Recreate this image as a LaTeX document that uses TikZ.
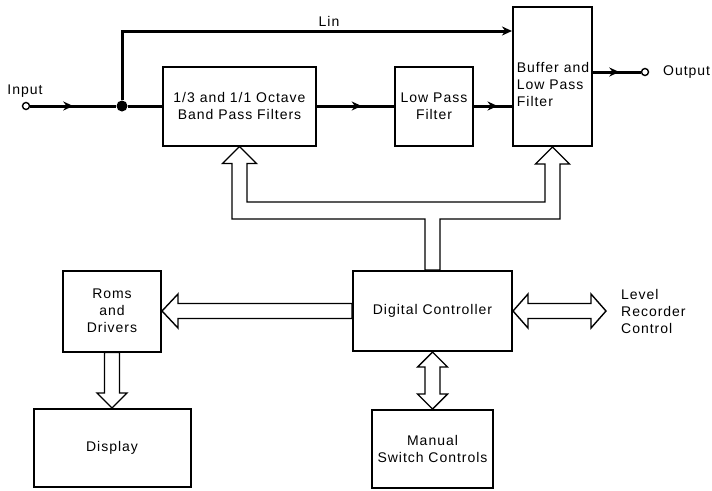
\documentclass[tikz,border=0pt]{standalone}
\usepackage{fontspec}
\setmainfont{Liberation Sans}[LetterSpace=7]
\usepackage{tikz}
\usetikzlibrary{calc,arrows.meta,decorations.markings}
\tikzset{
  box/.style={draw,line width=2pt,align=center,inner sep=2pt,font=\fontsize{14}{17}\selectfont},
  lbl/.style={font=\fontsize{14}{17}\selectfont,align=center,inner sep=1pt},
  sig/.style={line width=3pt},
  midar/.style={decoration={markings,mark=at position #1 with {\arrow{Stealth[length=10pt,width=9pt]}}},postaction={decorate}},
  fatar/.style={draw,line width=1.4pt,line join=miter},
  term/.style={circle,draw,line width=1.4pt,inner sep=0pt,minimum size=7pt}
}
\begin{document}
\begin{tikzpicture}[x=1pt,y=-1pt]
\useasboundingbox (0,0) rectangle (712,490);
\node[box,minimum width=153,minimum height=79] (bpf) at (239.5,106) {1/3 and 1/1 Octave\\Band Pass Filters};
\node[box,minimum width=78,minimum height=79] (lpf) at (434,106) {Low Pass\\Filter};
\node[box,minimum width=79,minimum height=139] (buf) at (552.5,76.5) {};
\node[lbl,align=left] (buftxt) at (553,84) {Buffer and\\Low Pass\\Filter};
\node[box,minimum width=98,minimum height=81] (roms) at (112,311) {Roms\\and\\Drivers};
\node[box,minimum width=157,minimum height=78] (disp) at (112,448) {Display};
\node[box,minimum width=159,minimum height=80] (dc) at (432.5,311) {Digital Controller};
\node[box,minimum width=121,minimum height=78] (msw) at (432.5,449) {Manual\\Switch Controls};

\node[term] (inp) at (26,106) {};
\node[circle,fill,inner sep=0pt,minimum size=11pt] (jn) at (122,106) {};
\node[term] (outp) at (645,72) {};
\coordinate (linin) at ($(buf.north west)+(0,25)$);
\draw[sig,midar=0.5] (inp) -- (jn);
\draw[sig] (jn) -- (bpf);
\draw[sig,-{Stealth[length=10pt,width=9pt]}] (jn) |- (linin);
\draw[sig,midar=0.58] (bpf) -- (lpf);
\draw[sig,midar=0.62] (lpf.east) -- (lpf.east -| buf.west);
\draw[sig,midar=0.55] (buf.east |- outp) -- (outp);
\node[lbl] (inlbl) at (25,91) {Input};
\node[lbl] (linlbl) at (329,21) {Lin};
\node[lbl,anchor=west] (outlbl) at (662,72) {Output};

\coordinate (bi) at ($(dc.north)+(0,-68)$);
\coordinate (bo) at ($(dc.north)+(0,-51)$);
\coordinate (bufL) at ($(buf.south)+(-7.5,0)$);
\coordinate (dcR) at ($(dc.north)+(7.5,0)$);
\coordinate (bpfL) at ($(bpf.south)+(-7.5,0)$);
\draw[fatar] (bpf.south) -- ++(17,17) -- ++(-9.5,0) |- (bufL |- bi) -- ($(buf.south)+(-7.5,17)$) -- ++(-9.5,0)
  -- (buf.south) -- ++(17,17) -- ++(-9.5,0) |- (dcR |- bo) -- (dcR) -- ($(dc.north)+(-7.5,0)$)
  |- (bpfL |- bo) -- ($(bpf.south)+(-7.5,17)$) -- ++(-9.5,0) -- cycle;
\draw[fatar] (roms.east) -- ++(16,-17) -- ++(0,9.5) -- ($(dc.west)+(0,-7.5)$) -- ($(dc.west)+(0,7.5)$)
  -- ($(roms.east)+(16,7.5)$) -- ++(0,9.5) -- cycle;
\draw[fatar] (disp.north) -- ++(-15,-15) -- ++(7.5,0) -- ($(roms.south)+(-7.5,0)$) -- ($(roms.south)+(7.5,0)$)
  -- ($(disp.north)+(7.5,-15)$) -- ++(7.5,0) -- cycle;
\coordinate (lvl) at (606,311);
\draw[fatar] (dc.east) -- ++(15,-17) -- ++(0,9.5) -- ($(lvl)+(-15,-7.5)$) -- ++(0,-9.5) -- (lvl)
  -- ++(-15,17) -- ++(0,-9.5) -- ($(dc.east)+(15,7.5)$) -- ++(0,9.5) -- cycle;
\draw[fatar] (dc.south) -- ++(15,15) -- ++(-7.5,0) -- ($(msw.north)+(7.5,-15)$) -- ++(7.5,0) -- (msw.north)
  -- ++(-15,-15) -- ++(7.5,0) -- ($(dc.south)+(-7.5,15)$) -- ++(-7.5,0) -- cycle;
\node[lbl,align=left,anchor=west] (lvllbl) at (620,311) {Level\\Recorder\\Control};
\end{tikzpicture}
\end{document}
